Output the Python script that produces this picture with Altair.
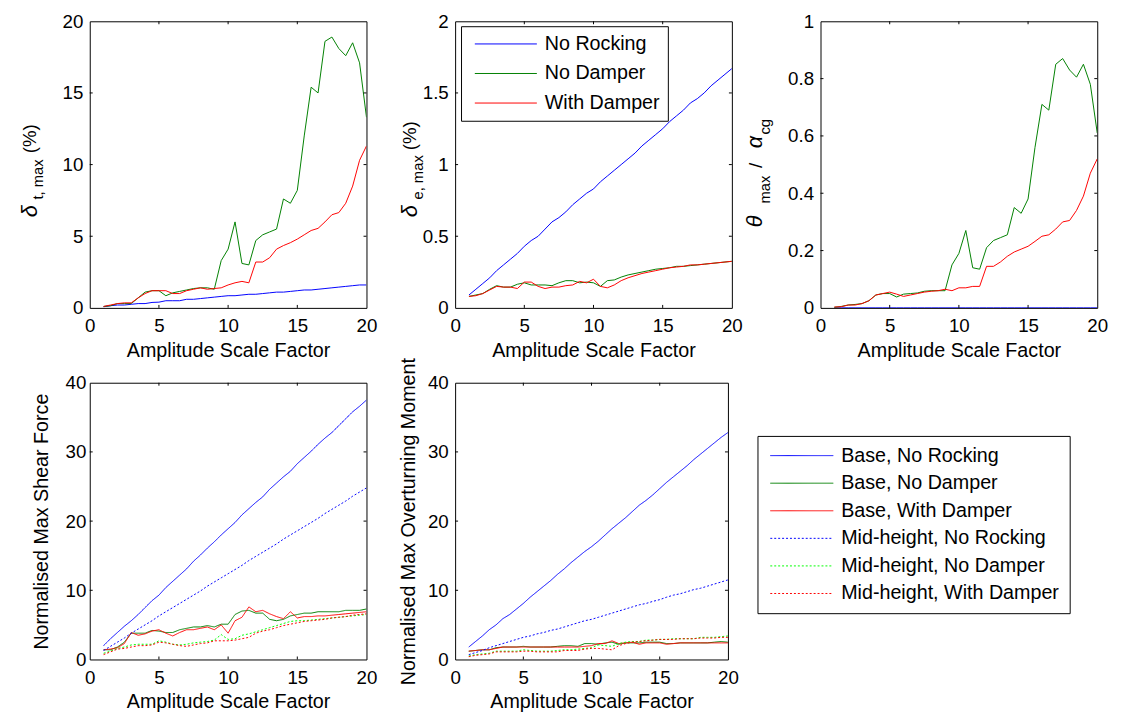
import altair as alt
import pandas as pd

FONT = "Liberation Sans"

# ---------------- data ----------------
x_vals = [1, 1.5, 2, 2.5, 3, 3.5, 4, 4.5, 5, 5.5, 6, 6.5, 7, 7.5, 8, 8.5, 9, 9.5, 10, 10.5,
          11, 11.5, 12, 12.5, 13, 13.5, 14, 14.5, 15, 15.5, 16, 16.5, 17, 17.5, 18, 18.5, 19, 19.5, 20]
x_ticks = [0, 5, 10, 15, 20]

top_series = ["No Rocking", "No Damper", "With Damper"]
top_colors = ["#0000FF", "#008000", "#FF0000"]

# delta_t,max (%)
dt_no_rocking = [0.08, 0.15, 0.2, 0.2, 0.25, 0.3, 0.3, 0.38, 0.4, 0.5, 0.5, 0.5, 0.6, 0.6, 0.65, 0.7, 0.75, 0.8, 0.85, 0.85,
                 0.9, 0.95, 0.95, 1.0, 1.05, 1.1, 1.1, 1.15, 1.2, 1.25, 1.25, 1.3, 1.35, 1.4, 1.45, 1.5, 1.55, 1.6, 1.6]
dt_no_damper = [0.1, 0.15, 0.3, 0.3, 0.3, 0.7, 1.1, 1.2, 1.2, 0.85, 1.05, 1.15, 1.25, 1.35, 1.4, 1.4, 1.3, 3.3, 4.1, 6.0,
                3.1, 3.0, 4.7, 5.1, 5.3, 5.5, 7.6, 7.3, 8.2, 12.0, 15.4, 15.0, 18.6, 18.9, 18.1, 17.6, 18.5, 17.1, 13.3]
dt_with_damper = [0.1, 0.2, 0.3, 0.35, 0.35, 0.7, 1.0, 1.2, 1.2, 1.2, 1.0, 1.0, 1.2, 1.3, 1.4, 1.3, 1.35, 1.4, 1.6, 1.75,
                  1.85, 1.75, 3.2, 3.2, 3.5, 4.1, 4.35, 4.55, 4.8, 5.1, 5.4, 5.55, 6.0, 6.5, 6.65, 7.3, 8.5, 10.3, 11.3]

# delta_e,max (%)
de_no_rocking = [0.09, 0.13, 0.17, 0.21, 0.26, 0.30, 0.34, 0.38, 0.43, 0.47, 0.50, 0.55, 0.60, 0.63, 0.67, 0.72, 0.76, 0.80, 0.83, 0.88,
                 0.92, 0.96, 1.00, 1.04, 1.08, 1.13, 1.17, 1.21, 1.25, 1.30, 1.34, 1.38, 1.43, 1.46, 1.50, 1.55, 1.59, 1.63, 1.67]
de_no_damper = [0.08, 0.09, 0.10, 0.13, 0.155, 0.145, 0.145, 0.165, 0.175, 0.16, 0.16, 0.16, 0.155, 0.175, 0.19, 0.19, 0.175, 0.18, 0.175, 0.15,
                0.19, 0.195, 0.215, 0.23, 0.24, 0.25, 0.26, 0.27, 0.275, 0.28, 0.29, 0.29, 0.295, 0.30, 0.305, 0.31, 0.315, 0.32, 0.325]
de_with_damper = [0.08, 0.085, 0.10, 0.125, 0.15, 0.145, 0.145, 0.135, 0.18, 0.18, 0.15, 0.135, 0.145, 0.145, 0.155, 0.16, 0.185, 0.175, 0.2, 0.15,
                  0.14, 0.16, 0.19, 0.21, 0.225, 0.24, 0.25, 0.26, 0.27, 0.28, 0.285, 0.29, 0.3, 0.3, 0.305, 0.31, 0.315, 0.32, 0.325]

# theta_max / alpha_cg
th_no_rocking = [0.0] * 39
th_no_damper = [0.002, 0.005, 0.01, 0.012, 0.015, 0.025, 0.045, 0.05, 0.05, 0.038, 0.048, 0.05, 0.052, 0.058, 0.06, 0.06, 0.06, 0.15, 0.19, 0.27,
                0.14, 0.135, 0.21, 0.235, 0.245, 0.255, 0.35, 0.33, 0.38, 0.56, 0.71, 0.69, 0.85, 0.87, 0.83, 0.805, 0.85, 0.78, 0.61]
th_with_damper = [0.003, 0.004, 0.01, 0.01, 0.015, 0.025, 0.045, 0.05, 0.055, 0.048, 0.04, 0.045, 0.05, 0.055, 0.058, 0.06, 0.065, 0.06, 0.07, 0.07,
                  0.075, 0.075, 0.145, 0.145, 0.16, 0.18, 0.195, 0.205, 0.215, 0.232, 0.25, 0.255, 0.275, 0.30, 0.305, 0.34, 0.39, 0.47, 0.52]

bottom_series = ["Base, No Rocking", "Base, No Damper", "Base, With Damper",
                 "Mid-height, No Rocking", "Mid-height, No Damper", "Mid-height, With Damper"]
bottom_colors = ["#0000FF", "#008000", "#FF0000", "#0000FF", "#00FF00", "#FF0000"]
bottom_dashes = [[1, 0], [1, 0], [1, 0], [2, 2], [2, 2], [2, 2]]

# Normalised max shear force
sf_base_nr = [2.0, 3.0, 3.9, 4.8, 5.6, 6.5, 7.5, 8.5, 9.3, 10.4, 11.3, 12.2, 13.1, 14.2, 15.1, 16.1, 17.0, 18.0, 18.9, 19.8,
              20.9, 21.8, 22.7, 23.5, 24.6, 25.5, 26.4, 27.2, 28.3, 29.2, 30.1, 31.1, 32.0, 32.8, 33.8, 34.8, 35.8, 36.6, 37.5]
sf_base_nd = [1.4, 1.4, 1.8, 2.5, 3.8, 3.8, 3.8, 4.2, 4.1, 3.9, 3.9, 4.3, 4.5, 4.7, 4.7, 4.9, 4.7, 5.1, 5.1, 6.5,
              7.0, 7.1, 6.7, 6.7, 5.8, 5.6, 5.8, 6.3, 6.5, 6.7, 6.7, 6.9, 6.9, 6.9, 6.9, 7.1, 7.1, 7.1, 7.3]
sf_base_wd = [1.4, 1.5, 1.7, 2.3, 3.9, 3.5, 3.7, 4.1, 4.3, 3.8, 3.4, 3.9, 4.3, 4.3, 4.5, 4.7, 4.3, 5.0, 3.8, 5.6,
              6.1, 7.6, 6.9, 7.1, 6.6, 6.2, 5.9, 6.9, 6.0, 6.2, 6.2, 6.3, 6.3, 6.4, 6.5, 6.6, 6.7, 6.8, 6.9]
sf_mid_nr = [1.3, 1.9, 2.5, 3.1, 3.8, 4.4, 5.0, 5.6, 6.3, 6.9, 7.5, 8.1, 8.7, 9.3, 9.9, 10.6, 11.2, 11.8, 12.4, 13.0,
             13.6, 14.3, 14.9, 15.5, 16.1, 16.7, 17.4, 18.0, 18.6, 19.2, 19.8, 20.4, 21.1, 21.7, 22.3, 22.9, 23.6, 24.2, 24.8]
sf_mid_nd = [0.9, 1.2, 1.6, 1.8, 2.1, 2.2, 2.2, 2.2, 2.7, 2.5, 2.2, 2.1, 2.2, 2.4, 2.5, 2.6, 2.8, 3.6, 2.9, 3.0,
             3.5, 3.7, 4.0, 4.3, 4.6, 4.9, 5.2, 5.5, 5.6, 5.6, 5.7, 5.8, 5.9, 6.0, 6.1, 6.2, 6.3, 6.4, 6.5]
sf_mid_wd = [0.7, 1.1, 1.5, 1.6, 1.8, 2.0, 2.0, 2.1, 2.5, 2.4, 2.2, 2.0, 1.9, 2.1, 2.3, 2.4, 2.7, 2.7, 2.7, 2.8,
             3.0, 3.2, 3.8, 4.1, 4.3, 4.6, 4.9, 5.1, 5.3, 5.5, 5.6, 5.7, 5.8, 6.0, 6.1, 6.2, 6.4, 6.5, 6.6]

# Normalised max overturning moment
om_base_nr = [1.8, 2.6, 3.4, 4.3, 5.0, 5.9, 6.5, 7.3, 8.1, 9.0, 9.8, 10.6, 11.4, 12.3, 13.1, 14.0, 14.8, 15.6, 16.3, 17.1,
              18.0, 18.9, 19.7, 20.5, 21.4, 22.3, 23.0, 23.8, 24.7, 25.6, 26.4, 27.2, 28.0, 28.9, 29.7, 30.5, 31.3, 32.1, 32.8]
om_base_nd = [1.2, 1.3, 1.4, 1.4, 1.7, 1.8, 1.8, 1.8, 1.9, 1.8, 1.8, 1.8, 1.8, 1.9, 2.0, 2.0, 1.9, 2.3, 2.3, 2.2,
              2.4, 2.5, 2.2, 2.4, 2.4, 2.4, 2.5, 2.5, 2.5, 2.3, 2.3, 2.4, 2.4, 2.4, 2.4, 2.4, 2.5, 2.6, 2.5]
om_base_wd = [1.2, 1.3, 1.4, 1.4, 1.6, 1.8, 1.8, 1.8, 1.8, 1.8, 1.8, 1.8, 1.8, 1.8, 1.8, 1.8, 1.8, 1.9, 2.0, 2.3,
              2.3, 2.7, 2.3, 2.4, 2.5, 2.2, 2.4, 2.4, 2.4, 2.2, 2.3, 2.4, 2.4, 2.4, 2.4, 2.4, 2.4, 2.4, 2.4]
om_mid_nr = [0.7, 1.0, 1.3, 1.7, 2.0, 2.3, 2.6, 2.9, 3.2, 3.4, 3.7, 3.9, 4.2, 4.4, 4.7, 5.0, 5.3, 5.6, 5.8, 6.1,
             6.4, 6.7, 7.0, 7.3, 7.6, 7.9, 8.1, 8.4, 8.65, 9.0, 9.3, 9.5, 9.8, 10.1, 10.3, 10.6, 10.9, 11.2, 11.5]
om_mid_nd = [0.5, 0.7, 0.8, 0.9, 1.2, 1.2, 1.2, 1.2, 1.4, 1.3, 1.2, 1.2, 1.2, 1.3, 1.4, 1.4, 1.5, 1.6, 1.7, 2.1,
             2.0, 1.9, 2.3, 2.5, 2.6, 2.6, 2.8, 2.8, 2.9, 2.9, 3.0, 3.0, 3.0, 3.0, 3.2, 3.2, 3.2, 3.3, 3.4]
om_mid_wd = [0.4, 0.6, 0.7, 0.8, 1.1, 1.1, 1.1, 1.1, 1.2, 1.2, 1.1, 1.1, 1.1, 1.1, 1.3, 1.3, 1.3, 1.5, 1.6, 1.6,
             1.5, 1.4, 2.0, 2.3, 2.5, 2.6, 2.7, 2.8, 2.9, 2.9, 2.9, 3.0, 3.0, 3.0, 3.1, 3.1, 3.1, 3.2, 3.2]

y_ticks_dt = [0, 5, 10, 15, 20]
y_ticks_de = [0, 0.5, 1, 1.5, 2]
y_ticks_th = [0, 0.2, 0.4, 0.6, 0.8, 1]
y_ticks_force = [0, 10, 20, 30, 40]

x_title = "Amplitude Scale Factor"
sf_title = "Normalised Max Shear Force"
om_title = "Normalised Max Overturning Moment"


# ---------------- helpers ----------------
def long_df(names, columns):
    rows = []
    for name, vals in zip(names, columns):
        for xv, yv in zip(x_vals, vals):
            rows.append({"x": xv, "y": yv, "series": name})
    return pd.DataFrame(rows)


def text_seg(label, px, py, size, italic=False):
    return alt.Chart(pd.DataFrame({"label": [label]})).mark_text(
        angle=270, align="left", baseline="alphabetic", font=FONT, fontSize=size,
        fontStyle="italic" if italic else "normal", color="black"
    ).encode(text="label:N", x=alt.value(px), y=alt.value(py))


def panel(df, names, colors, ymax, yticks, w, h, dashes=None, legend=None,
          ytitle=None, ylabpad=7, ytitlepad=9, segs=()):
    xs = alt.Scale(domain=[0, 20], nice=False, zero=False)
    ys = alt.Scale(domain=[0, ymax], nice=False, zero=False)
    xaxis = alt.Axis(values=x_ticks, format="~g", title=x_title, labelPadding=9, titlePadding=5,
                     labelFlush=False, labelOverlap=False)
    if ytitle:
        yaxis = alt.Axis(values=yticks, format="~g", title=ytitle, labelPadding=ylabpad, titlePadding=ytitlepad,
                         labelFlush=False, labelOverlap=False)
    else:
        yaxis = alt.Axis(values=yticks, format="~g", title=None, labelPadding=ylabpad,
                         labelFlush=False, labelOverlap=False)
    enc = dict(
        x=alt.X("x:Q", scale=xs, axis=xaxis),
        y=alt.Y("y:Q", scale=ys, axis=yaxis),
        color=alt.Color("series:N", scale=alt.Scale(domain=names, range=colors), legend=legend),
    )
    if dashes is not None:
        enc["strokeDash"] = alt.StrokeDash("series:N", scale=alt.Scale(domain=names, range=dashes), legend=legend)
    lines = alt.Chart(df).mark_line(strokeWidth=1, clip=True).encode(**enc)

    tl = 3
    dx = pd.DataFrame({"t": x_ticks[1:-1]})
    dy = pd.DataFrame({"t": yticks[1:-1]})
    rule = dict(color="black", strokeWidth=1)
    rb = alt.Chart(dx).mark_rule(**rule).encode(x=alt.X("t:Q", scale=xs), y=alt.value(h), y2=alt.value(h - tl))
    rt = alt.Chart(dx).mark_rule(**rule).encode(x=alt.X("t:Q", scale=xs), y=alt.value(0), y2=alt.value(tl))
    rl = alt.Chart(dy).mark_rule(**rule).encode(y=alt.Y("t:Q", scale=ys), x=alt.value(0), x2=alt.value(tl))
    rr = alt.Chart(dy).mark_rule(**rule).encode(y=alt.Y("t:Q", scale=ys), x=alt.value(w), x2=alt.value(w - tl))

    layers = [lines, rb, rt, rl, rr] + [text_seg(*s) for s in segs]
    return alt.layer(*layers).properties(width=w, height=h)


# ---------------- panels ----------------
df_dt = long_df(top_series, [dt_no_rocking, dt_no_damper, dt_with_damper])
df_de = long_df(top_series, [de_no_rocking, de_no_damper, de_with_damper])
df_th = long_df(top_series, [th_no_rocking, th_no_damper, th_with_damper])
df_sf = long_df(bottom_series, [sf_base_nr, sf_base_nd, sf_base_wd, sf_mid_nr, sf_mid_nd, sf_mid_wd])
df_om = long_df(bottom_series, [om_base_nr, om_base_nd, om_base_wd, om_mid_nr, om_mid_nd, om_mid_wd])

top_legend = alt.Legend(
    orient="none", legendX=6, legendY=5, title=None,
    symbolType="M-6.3,0H6.3", symbolSize=100, symbolStrokeWidth=1,
    symbolOffset=27.5, labelOffset=29.5, labelFont=FONT, labelFontSize=20, labelColor="black",
    labelLimit=400, padding=8, rowPadding=10, strokeColor="black", fillColor="white",
)
bottom_legend = alt.Legend(
    orient="none", legendX=307, legendY=54, title=None,
    symbolType="M-6.4,0H6.4", symbolSize=100, symbolStrokeWidth=1,
    symbolOffset=25, labelOffset=30, labelFont=FONT, labelFontSize=20, labelColor="black",
    labelLimit=400, padding=10, rowPadding=8, strokeColor="black", fillColor="white",
)

W, H = 281, 291
p1 = panel(df_dt, top_series, top_colors, 20, y_ticks_dt, W, H,
           segs=[("\u03b4", -54, 199, 22, True), ("t, max", -47, 181, 15), ("(%)", -55, 134, 19)])
p2 = panel(df_de, top_series, top_colors, 2, y_ticks_de, W, H, legend=top_legend,
           segs=[("\u03b4", -39, 199, 22, True), ("e, max", -33, 181, 15), ("(%)", -40, 131, 19)])
p3 = panel(df_th, top_series, top_colors, 1, y_ticks_th, W, H,
           segs=[("\u03b8", -59, 209, 22, True), ("max", -51, 185, 15), ("/", -59, 149, 19),
                 ("\u03b1", -59, 129, 22, True), ("cg", -51, 115, 15)])

p4 = panel(df_sf, bottom_series, bottom_colors, 40, y_ticks_force, 281, 281,
           dashes=bottom_dashes, ytitle=sf_title, ylabpad=4, ytitlepad=14)
p5 = panel(df_om, bottom_series, bottom_colors, 40, y_ticks_force, 277, 281,
           dashes=bottom_dashes, legend=bottom_legend, ytitle=om_title, ylabpad=7, ytitlepad=9)

chart = alt.concat(
    p1, p2, p3, p4, p5, columns=3, spacing={"row": 76, "column": 90}, bounds="flush"
).resolve_scale(
    color="independent", strokeDash="independent"
).properties(
    padding={"left": 10, "top": -2, "right": 5, "bottom": 5}
).configure_view(
    stroke="black", strokeWidth=1
).configure_axis(
    domain=False, ticks=False, tickSize=0, grid=False, labelFlush=False, labelOverlap=False,
    labelFont=FONT, labelFontSize=19, labelColor="black",
    titleFont=FONT, titleFontSize=20, titleFontWeight="normal", titleColor="black",
)

chart.save("out.html", embed_options={"renderer": "svg", "actions": False})
